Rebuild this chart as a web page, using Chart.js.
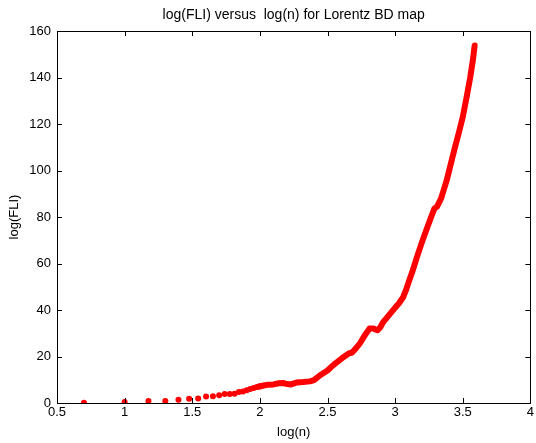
<!DOCTYPE html>
<html>
<head>
<meta charset="utf-8">
<script src="https://cdn.jsdelivr.net/npm/chart.js@4/dist/chart.umd.min.js"></script>
<style>
  body { margin: 0; background: #fff; }
  canvas { display: block; }
</style>
</head>
<body>
<canvas id="chart" width="536" height="443"></canvas>
<script>
// sparse points at the start (log(n), log(FLI))
const dotX = [0.699, 1.0, 1.176, 1.301, 1.398, 1.477, 1.544, 1.602, 1.653, 1.699,
  1.740, 1.778, 1.813, 1.845, 1.875, 1.903, 1.929, 1.954, 1.978, 2.0];
const dotY = [0.1, 0.4, 0.9, 0.9, 1.4, 1.8, 1.9, 2.8, 2.9, 3.3,
  3.9, 3.9, 4.0, 4.7, 5.0, 5.5, 6.0, 6.4, 6.9, 7.2];

// dense part, read along the thick band
const bandX = [1.99, 2.02, 2.06, 2.10, 2.14, 2.17, 2.19, 2.23, 2.27, 2.32, 2.37, 2.40,
  2.43, 2.46, 2.50, 2.54, 2.58, 2.62, 2.66, 2.68, 2.71, 2.74, 2.78, 2.81, 2.84, 2.87,
  2.89, 2.91, 2.95, 3.0, 3.03, 3.06, 3.08, 3.10, 3.13, 3.16, 3.20, 3.23, 3.26, 3.29,
  3.31, 3.34, 3.38, 3.41, 3.44, 3.47, 3.50, 3.53, 3.555, 3.575, 3.588];
const bandY = [7.0, 7.4, 7.9, 8.0, 8.5, 8.6, 8.3, 8.0, 8.8, 9.0, 9.3, 9.8,
  11.2, 12.5, 14.0, 16.2, 18.0, 19.8, 21.4, 21.6, 23.5, 25.7, 29.5, 32.0, 32.0, 31.3,
  32.5, 34.7, 37.5, 41.0, 43.0, 45.6, 48.5, 52.0, 57.0, 62.5, 69.5, 74.3, 79.0, 83.6,
  84.5, 88.0, 95.5, 102.5, 109.5, 116.0, 123.0, 132.0, 140.0, 147.5, 153.8];

const xTicks = [0.5, 1, 1.5, 2, 2.5, 3, 3.5, 4];
const yTicks = [0, 20, 40, 60, 80, 100, 120, 140, 160];

const FONT = { family: "'Liberation Sans', Arial, sans-serif", size: 13 };

// рамка и внутренние засечки как в MATLAB
const boxPlugin = {
  id: "box",
  afterDraw(chart) {
    const { ctx, chartArea: a, scales } = chart;
    const len = 5;
    ctx.save();
    ctx.strokeStyle = "#000";
    ctx.lineWidth = 1;
    ctx.beginPath();
    scales.x.ticks.forEach(t => {
      const px = Math.round(scales.x.getPixelForValue(t.value)) + 0.5;
      ctx.moveTo(px, a.bottom); ctx.lineTo(px, a.bottom - len);
      ctx.moveTo(px, a.top); ctx.lineTo(px, a.top + len);
    });
    scales.y.ticks.forEach(t => {
      const py = Math.round(scales.y.getPixelForValue(t.value)) + 0.5;
      ctx.moveTo(a.left, py); ctx.lineTo(a.left + len, py);
      ctx.moveTo(a.right, py); ctx.lineTo(a.right - len, py);
    });
    ctx.stroke();
    ctx.strokeRect(Math.round(a.left) + 0.5, Math.round(a.top) + 0.5,
      Math.round(a.right - a.left), Math.round(a.bottom - a.top));
    ctx.restore();
  }
};

const ctx = document.getElementById("chart").getContext("2d");
new Chart(ctx, {
  type: "scatter",
  data: {
    datasets: [
      {
        label: "dots",
        data: dotX.map((x, i) => ({ x: x, y: dotY[i] })),
        pointRadius: 3,
        pointHoverRadius: 3,
        pointBackgroundColor: "#ff0000",
        pointBorderWidth: 0,
        showLine: false,
      },
      {
        label: "band",
        data: bandX.map((x, i) => ({ x: x, y: bandY[i] })),
        showLine: true,
        pointRadius: 0,
        borderColor: "#ff0000",
        borderWidth: 6,
        borderCapStyle: "round",
        borderJoinStyle: "round",
        tension: 0,
      },
    ],
  },
  options: {
    responsive: false,
    animation: false,
    layout: { padding: { left: 0, right: 5, top: 0, bottom: 0 } },
    plugins: {
      legend: { display: false },
      tooltip: { enabled: false },
      title: {
        display: true,
        fullSize: false, // центр над областью графика
        text: "log(FLI) versus  log(n) for Lorentz BD map",
        color: "#000",
        font: { ...FONT, size: 14, weight: "normal" },
        padding: { top: 7, bottom: 7.2 },
      },
    },
    scales: {
      x: {
        type: "linear",
        min: 0.5,
        max: 4,
        afterBuildTicks: s => { s.ticks = xTicks.map(v => ({ value: v })); },
        afterFit: s => { s.height = 40; },
        grid: { display: false, drawTicks: false, tickLength: 0 },
        border: { display: false },
        ticks: {
          color: "#000",
          font: FONT,
          padding: 2,
          maxRotation: 0,
          callback: v => String(v),
        },
        title: {
          display: true,
          text: "log(n)",
          color: "#000",
          font: FONT,
          padding: { top: 0, bottom: 3 },
        },
      },
      y: {
        type: "linear",
        min: 0,
        max: 160,
        afterBuildTicks: s => { s.ticks = yTicks.map(v => ({ value: v })); },
        afterFit: s => { s.width = 57; },
        grid: { display: false, drawTicks: false, tickLength: 0 },
        border: { display: false },
        ticks: {
          color: "#000",
          font: FONT,
          padding: 6,
          callback: v => String(v),
        },
        title: {
          display: true,
          text: "log(FLI)",
          color: "#000",
          font: FONT,
          padding: { top: 7, bottom: 0 },
        },
      },
    },
  },
  plugins: [boxPlugin],
});
</script>
</body>
</html>
